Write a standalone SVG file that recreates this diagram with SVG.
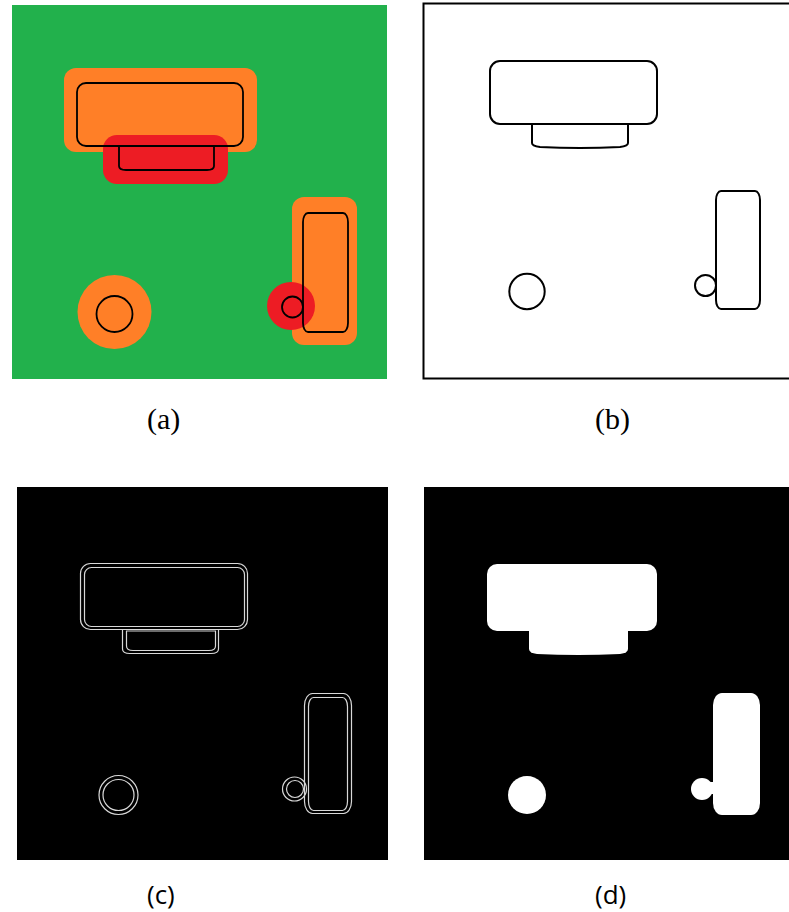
<svg xmlns="http://www.w3.org/2000/svg" width="789" height="912" viewBox="0 0 789 912">
<style>
.ol{fill:none;stroke:#000;stroke-width:1.8}
.olb{fill:none;stroke:#000;stroke-width:2}
.edge{fill:none;stroke:#d8d8d8;stroke-width:1.2}
.wf{fill:#fff}
.or{fill:#ff7f27}
.rd{fill:#ed1c24}
.lab1{font-family:"Liberation Serif",serif;font-size:30px;fill:#000}
.lab2{font-family:"Open Sans","Noto Sans",sans-serif;font-size:26px;fill:#000}
</style>
<rect width="789" height="912" fill="#fff"/>
<g id="panel-a">
<rect x="12" y="5" width="375" height="374" fill="#22b14c"/>
<rect class="or" x="64" y="68" width="193" height="84" rx="12"/>
<rect class="rd" x="103" y="135" width="125" height="49" rx="14"/>
<rect class="ol" x="77" y="83" width="166" height="63" rx="9"/>
<path class="ol" d="M119,146 V166 Q119,170 126,170 H207 Q214,170 214,166 V146"/>
<rect class="or" x="292" y="197" width="65" height="148" rx="12"/>
<circle class="rd" cx="291" cy="306" r="24"/>
<rect class="ol" x="303" y="213" width="45" height="119" rx="5" ry="9"/>
<circle class="ol" cx="292.5" cy="307" r="10.5"/>
<circle class="or" cx="114.5" cy="312" r="37"/>
<circle class="ol" cx="114.5" cy="314" r="18"/>
</g>
<g id="panel-b">
<path class="olb" d="M792,3.5 H423.5 V378.5 H792"/>
<rect class="olb" x="490" y="61" width="167" height="63" rx="10"/>
<path class="olb" d="M532,124 V143 Q532,146 540,147 Q580,149 620,147 Q628,146 628,143 V124"/>
<rect class="olb" x="716" y="191" width="44" height="118" rx="5" ry="9"/>
<circle class="olb" cx="705.5" cy="285.5" r="10.5"/>
<circle class="olb" cx="527" cy="291.5" r="17.7"/>
</g>
<g id="panel-c">
<rect x="17" y="487" width="371" height="373" fill="#000"/>
<rect class="edge" x="80.5" y="563.5" width="167" height="66" rx="10"/>
<rect class="edge" x="84.5" y="567.5" width="160" height="59" rx="7"/>
<path class="edge" d="M122.5,629.5 V649 Q122.5,653.5 130,653.5 H211 Q218.5,653.5 218.5,649 V629.5"/>
<path class="edge" d="M126.5,631 H215.5 V646 Q215.5,650.5 209,650.5 H133 Q126.5,650.5 126.5,646 Z"/>
<rect class="edge" x="304.5" y="693.5" width="47" height="120" rx="8" ry="12"/>
<rect class="edge" x="308.5" y="697.5" width="39" height="113" rx="5" ry="9"/>
<circle class="edge" cx="294.5" cy="789" r="12"/>
<circle class="edge" cx="295" cy="789" r="8.5"/>
<circle class="edge" cx="118.5" cy="795" r="19.5"/>
<circle class="edge" cx="118.5" cy="795" r="15.5"/>
</g>
<g id="panel-d">
<rect x="424" y="487" width="365" height="373" fill="#000"/>
<rect class="wf" x="487" y="564" width="170" height="67" rx="10"/>
<path class="wf" d="M529,630 V649 Q529,653 537,654 Q578,656 620,654 Q628,653 628,649 V630 Z"/>
<rect class="wf" x="713" y="693" width="47" height="122" rx="9" ry="12"/>
<circle class="wf" cx="702" cy="789" r="11"/>
<rect class="wf" x="704" y="782" width="12" height="12"/>
<circle class="wf" cx="527" cy="795" r="19"/>
</g>
<g id="labels">
<text class="lab1" x="147" y="429">(a)</text>
<text class="lab1" x="595" y="429">(b)</text>
<text class="lab2" x="147" y="904">(c)</text>
<text class="lab2" x="595" y="904">(d)</text>
</g>
<g id="connectors"/>
</svg>
